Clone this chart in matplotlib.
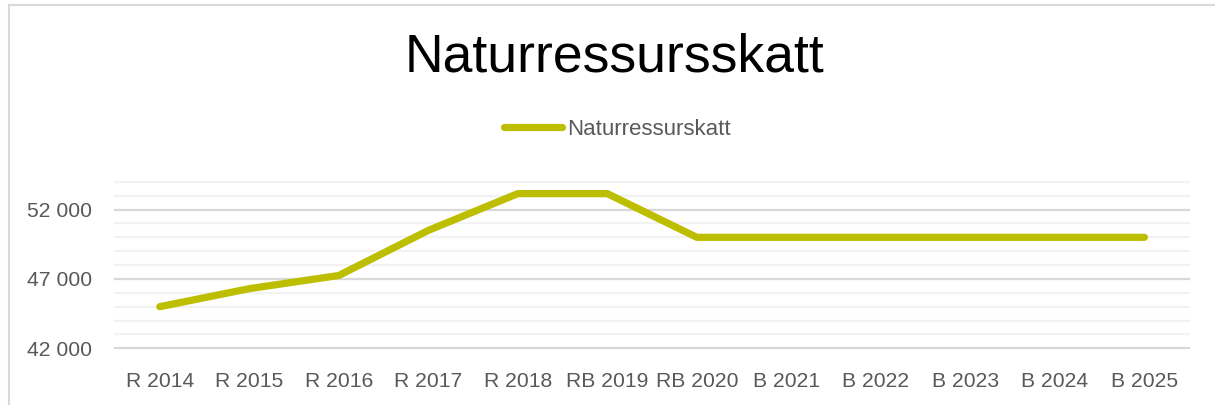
import matplotlib
matplotlib.use("Agg")
import matplotlib.pyplot as plt
from matplotlib.lines import Line2D
from matplotlib.ticker import FuncFormatter

# data
years = ['R 2014', 'R 2015', 'R 2016', 'R 2017', 'R 2018', 'RB 2019',
         'RB 2020', 'B 2021', 'B 2022', 'B 2023', 'B 2024', 'B 2025']
naturressursskatt = [45000, 46300, 47250, 50500, 53150, 53150,
                     50000, 50000, 50000, 50000, 50000, 50000]
y_major = [42000, 47000, 52000]
y_minor = list(range(42000, 54001, 1000))

line_color = '#BDBE00'
text_gray = '#595959'

plt.rcParams['font.family'] = ['Liberation Sans', 'DejaVu Sans']

fig = plt.figure(figsize=(12.15, 4.05), dpi=100)
ax = fig.add_axes([0.0947, 0.140, 0.884, 0.411])

x = list(range(len(years)))
ax.plot(x, naturressursskatt, color=line_color, lw=5.2,
        solid_capstyle='round', solid_joinstyle='round',
        label='Naturressurskatt', zorder=3)

ax.set_xlim(-0.5, len(years) - 0.5)
ax.set_ylim(42000, 54000)
ax.set_yticks(y_major)
ax.set_yticks(y_minor, minor=True)
ax.yaxis.set_major_formatter(FuncFormatter(lambda v, p: f'{int(v):,}'.replace(',', ' ')))
ax.set_xticks(x)
ax.set_xticklabels(years)

# gridlines drawn by hand so the edge lines are not clipped
for v in y_minor:
    if v not in y_major:
        ax.axhline(v, color='#F2F2F2', lw=1.6, zorder=1, clip_on=False)
for v in y_major:
    ax.axhline(v, color='#D9D9D9', lw=1.6, zorder=2, clip_on=False)

for s in ax.spines.values():
    s.set_visible(False)
ax.tick_params(axis='both', which='both', length=0, colors=text_gray, labelsize=15.2)
ax.tick_params(axis='x', pad=17)
ax.tick_params(axis='y', pad=16.5)

fig.text(0.506, 0.857, 'Naturressursskatt', ha='center', va='center',
         fontsize=38.5, color='black')

leg = fig.legend(loc='center', bbox_to_anchor=(0.508, 0.681), frameon=False,
                 fontsize=16, labelcolor=text_gray, handlelength=2.6,
                 handletextpad=0.25)

# outer chart border (only top and left visible in the crop)
fig.add_artist(Line2D([0.0074, 0.0074], [0.0, 0.988], color='#D9D9D9', lw=1.5))
fig.add_artist(Line2D([0.0074, 1.0], [0.988, 0.988], color='#D9D9D9', lw=1.5))

fig.savefig('out.png', dpi=100, facecolor='white')
